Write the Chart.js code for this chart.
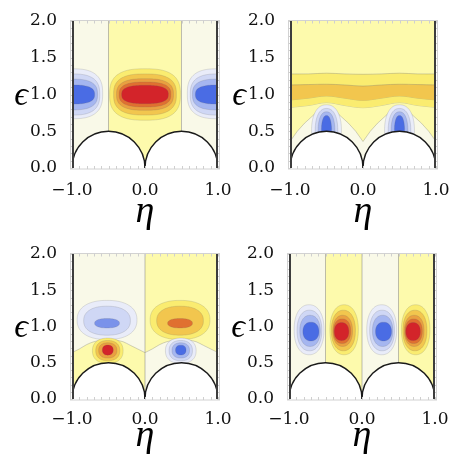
<!DOCTYPE html>
<html><head><meta charset="utf-8">
<script src="https://cdn.jsdelivr.net/npm/chart.js@4.4.1/dist/chart.umd.min.js"></script>
<style>
html,body{margin:0;padding:0;background:#fff;}
#wrap{position:relative;width:449px;height:455px;overflow:hidden;background:#fff;}
canvas{position:absolute;}
</style></head><body>
<div id="wrap">
<canvas id="c1" style="left:0px;top:0px;width:240px;height:230px" width="240" height="230"></canvas>
<canvas id="c2" style="left:220px;top:0px;width:229px;height:230px" width="229" height="230"></canvas>
<canvas id="c3" style="left:0px;top:230px;width:240px;height:225px" width="240" height="225"></canvas>
<canvas id="c4" style="left:220px;top:230px;width:229px;height:225px" width="229" height="225"></canvas>
</div>
<script>
// ---------- axis ticks ----------
const etaTicks = [-1, 0, 1];
const etaTickLabels = ['\u22121.0', '0.0', '1.0'];
const epsTicks = [0, 0.5, 1, 1.5, 2];
const epsTickLabels = ['0.0', '0.5', '1.0', '1.5', '2.0'];
const etaMinor = [-1,-0.9,-0.8,-0.7,-0.6,-0.5,-0.4,-0.3,-0.2,-0.1,0,0.1,0.2,0.3,0.4,0.5,0.6,0.7,0.8,0.9,1];
const epsMinor = [0,0.1,0.2,0.3,0.4,0.5,0.6,0.7,0.8,0.9,1,1.1,1.2,1.3,1.4,1.5,1.6,1.7,1.8,1.9,2];

// ---------- excluded half-discs ----------
const cutCenters = [-0.5, 0.5];
const cutRadius = 0.5;

// ---------- sign stripes [etaFrom, etaTo, positive?] ----------
const p1Stripes = [[-1,-0.5,0],[-0.5,0.5,1],[0.5,1,0]];
const p2Stripes = [[-1,1,1]];
const p3Stripes = [[-1,0,0],[0,1,1]];
const p4Stripes = [[-1,-0.5,0],[-0.5,0,1],[0,0.5,0],[0.5,1,1]];

// ---------- zero contours [eta, epsFrom, epsTo] ----------
const p1Zero = [[-0.5,0.5,2],[0.5,0.5,2]];
const p2Zero = [];
const p3Zero = [[0,0,2]];
const p4Zero = [[-0.5,0.5,2],[0,0,2],[0.5,0.5,2]];

// ---------- panel 2 horizontal bands ----------
const p2BandEta = [-1,-0.75,-0.5,-0.25,0,0.25,0.5,0.75,1];
const p2Band1Top = [1.28,1.28,1.29,1.28,1.275,1.28,1.29,1.28,1.28];
const p2Band2Top = [1.13,1.135,1.14,1.13,1.115,1.13,1.14,1.135,1.13];
const p2Band2Bot = [0.925,0.95,0.98,0.95,0.92,0.95,0.98,0.95,0.925];
const p2Band1Bot = [0.825,0.85,0.89,0.85,0.82,0.85,0.89,0.85,0.825];
// panel 2 arch (low-level region over the discs)
const p2ArchEta = [-1,-0.9,-0.8,-0.7,-0.6,-0.5,-0.4,-0.3,-0.2,-0.1,0,0.1,0.2,0.3,0.4,0.5,0.6,0.7,0.8,0.9,1];
const p2Arch = [0.36,0.50,0.61,0.70,0.79,0.85,0.79,0.70,0.61,0.50,0.36,0.50,0.61,0.70,0.79,0.85,0.79,0.70,0.61,0.50,0.36];

// ---------- panel 3 sign boundary ----------
const p3BoundEta = [-1,-0.9,-0.8,-0.7,-0.6,-0.5,-0.4,-0.3,-0.2,-0.1,0,0.1,0.2,0.3,0.4,0.5,0.6,0.7,0.8,0.9,1];
const p3Bound = [0.64,0.69,0.75,0.79,0.81,0.82,0.81,0.79,0.74,0.69,0.64,0.69,0.75,0.79,0.81,0.82,0.81,0.79,0.74,0.69,0.64];

// ---------- contour levels [level, etaCenter, epsCenter, etaHalfWidth, epsHalfHeight] ----------
const p1Contours = [
  [-1,-1,1.01,0.42,0.34],[-2,-1,1.0,0.38,0.28],[-3,-1,1.0,0.35,0.21],[-5,-1,1.0,0.31,0.13],
  [-1,1,1.01,0.42,0.34],[-2,1,1.0,0.38,0.28],[-3,1,1.0,0.35,0.21],[-5,1,1.0,0.31,0.13],
  [1,0,1.0,0.485,0.35],[2,0,1.0,0.43,0.28],[3,0,1.0,0.39,0.215],[4,0,1.0,0.355,0.17],[5,0,1.0,0.32,0.125]
];
const p2Contours = [
  [-1,-0.5,0.5,0.205,0.36],[-2,-0.5,0.5,0.155,0.31],[-3,-0.5,0.5,0.115,0.265],[-5,-0.5,0.5,0.07,0.215],
  [-1,0.5,0.5,0.205,0.36],[-2,0.5,0.5,0.155,0.31],[-3,0.5,0.5,0.115,0.265],[-5,0.5,0.5,0.07,0.215]
];
const p3Contours = [
  [-1,-0.52,1.09,0.41,0.27],[-2,-0.52,1.08,0.32,0.20],[-4,-0.52,1.045,0.17,0.065],
  [1,0.48,1.09,0.41,0.27],[2,0.48,1.08,0.32,0.20],[4,0.48,1.045,0.17,0.065],
  [1,-0.51,0.665,0.21,0.175],[2,-0.51,0.667,0.165,0.14],[3,-0.51,0.67,0.125,0.105],[5,-0.51,0.675,0.075,0.07],
  [-1,0.49,0.665,0.21,0.175],[-2,0.49,0.667,0.16,0.14],[-3,0.49,0.67,0.12,0.105],[-5,0.49,0.675,0.072,0.068]
];
const p4Contours = [
  [-1,-0.725,0.955,0.205,0.345],[-2,-0.72,0.945,0.17,0.28],[-3,-0.712,0.94,0.14,0.215],[-5,-0.70,0.93,0.11,0.13],
  [1,-0.245,0.955,0.195,0.345],[2,-0.255,0.945,0.165,0.28],[3,-0.265,0.94,0.135,0.215],[4,-0.272,0.935,0.118,0.17],[5,-0.28,0.93,0.10,0.125],
  [-1,0.27,0.955,0.205,0.345],[-2,0.275,0.945,0.17,0.28],[-3,0.283,0.94,0.14,0.215],[-5,0.295,0.93,0.11,0.13],
  [1,0.735,0.955,0.195,0.345],[2,0.725,0.945,0.165,0.28],[3,0.715,0.94,0.135,0.215],[4,0.708,0.935,0.118,0.17],[5,0.70,0.93,0.10,0.125]
];

// ---------- styles ----------
const PALE = 'rgb(249,249,232)';
const YELLOW = 'rgb(253,250,172)';
const POS = [YELLOW,'rgb(250,236,112)','rgb(242,198,78)','rgb(234,160,64)','rgb(224,112,48)','rgb(211,36,42)'];
const NEG = [PALE,'rgb(233,236,249)','rgb(207,215,245)','rgb(165,182,240)','rgb(122,146,234)','rgb(74,108,228)'];
const LINE = 'rgba(110,110,110,0.45)';
const TICKFONT = {family:'"DejaVu Serif", serif', size:17};

function pts(xs, ys){ return xs.map((v,i)=>({x:v,y:ys[i]})); }
function lineDs(data, extra){
  return Object.assign({data, borderColor:LINE, borderWidth:0.7, pointRadius:0, pointHitRadius:0, fill:false, tension:0.35}, extra||{});
}
function zeroDs(list){
  return list.map(z => lineDs([{x:z[0],y:z[1]},{x:z[0],y:z[2]}], {tension:0, borderColor:'rgba(120,120,120,0.6)', borderWidth:0.8}));
}

function levelColor(l){ return l > 0 ? POS[l] : NEG[-l]; }

function blobPath(ctx, sx, sy, c, n){
  const [, cx, cy, rx, ry] = c;
  ctx.beginPath();
  const N = 96;
  for (let i = 0; i <= N; i++){
    const t = i / N * 2 * Math.PI;
    const co = Math.cos(t), si = Math.sin(t);
    const ex = cx + rx * Math.sign(co) * Math.pow(Math.abs(co), 2/n);
    const ey = cy + ry * Math.sign(si) * Math.pow(Math.abs(si), 2/n);
    const px = sx.getPixelForValue(ex), py = sy.getPixelForValue(ey);
    if (i === 0) ctx.moveTo(px, py); else ctx.lineTo(px, py);
  }
  ctx.closePath();
}

function makePlugin(P){
  return {
    id: 'field' + P.id,
    beforeDatasetsDraw(chart){
      const {ctx, chartArea:a, scales:{x, y}} = chart;
      ctx.save();
      ctx.beginPath(); ctx.rect(a.left, a.top, a.right-a.left, a.bottom-a.top); ctx.clip();
      P.stripes.forEach(s => {
        const x0 = x.getPixelForValue(s[0]), x1 = x.getPixelForValue(s[1]);
        ctx.fillStyle = s[2] ? YELLOW : PALE;
        ctx.fillRect(x0, a.top, x1 - x0, a.bottom - a.top);
      });
      ctx.restore();
    },
    afterDatasetsDraw(chart){
      const {ctx, chartArea:a, scales:{x, y}} = chart;
      ctx.save();
      ctx.beginPath(); ctx.rect(a.left, a.top, a.right-a.left, a.bottom-a.top); ctx.clip();
      P.contours.forEach(c => {
        blobPath(ctx, x, y, c, P.n);
        ctx.fillStyle = levelColor(c[0]);
        ctx.fill();
        ctx.strokeStyle = 'rgba(100,100,100,0.3)';
        ctx.lineWidth = 0.6;
        ctx.stroke();
      });
      // excluded half discs
      const y0 = y.getPixelForValue(0);
      cutCenters.forEach(c => {
        const cx = x.getPixelForValue(c);
        const rx = x.getPixelForValue(c + cutRadius) - cx;
        const ry = y0 - y.getPixelForValue(cutRadius);
        ctx.beginPath();
        ctx.moveTo(cx - rx, y0 + 2);
        ctx.lineTo(cx - rx, y0);
        ctx.ellipse(cx, y0, rx, ry, 0, Math.PI, 2*Math.PI, false);
        ctx.lineTo(cx + rx, y0 + 2);
        ctx.closePath();
        ctx.fillStyle = '#fff';
        ctx.fill();
        ctx.beginPath();
        ctx.ellipse(cx, y0, rx, ry, 0, Math.PI, 2*Math.PI, false);
        ctx.strokeStyle = '#1a1a1a';
        ctx.lineWidth = 1.4;
        ctx.stroke();
      });
      ctx.restore();
      // frame
      ctx.save();
      ctx.strokeStyle = '#d2d2d2';
      ctx.lineWidth = 1;
      ctx.strokeRect(a.left - 1.5, a.top - 0.5, a.right - a.left + 3, a.bottom - a.top + 1.5);
      ctx.strokeStyle = '#cfcfcf';
      ctx.beginPath();
      etaMinor.forEach(v => {
        const px = Math.round(x.getPixelForValue(v)) + 0.5;
        ctx.moveTo(px, a.bottom + 1); ctx.lineTo(px, a.bottom - 2);
        ctx.moveTo(px, a.top - 0.5); ctx.lineTo(px, a.top + 2.5);
      });
      epsMinor.forEach(v => {
        const py = Math.round(y.getPixelForValue(v)) + 0.5;
        ctx.moveTo(a.left - 1.5, py); ctx.lineTo(a.left + 1, py);
        ctx.moveTo(a.right + 1.5, py); ctx.lineTo(a.right - 1, py);
      });
      ctx.stroke();
      // dark side walls at eta = -1 and eta = 1
      ctx.strokeStyle = '#3d3d3d';
      ctx.lineWidth = 2;
      ctx.beginPath();
      const xl = x.getPixelForValue(-1) + 1, xr = x.getPixelForValue(1) - 1;
      ctx.moveTo(xl, y.getPixelForValue(0)); ctx.lineTo(xl, y.getPixelForValue(2));
      ctx.moveTo(xr, y.getPixelForValue(0)); ctx.lineTo(xr, y.getPixelForValue(2));
      ctx.stroke();
      // epsilon label
      ctx.fillStyle = '#000';
      ctx.font = 'italic 34px "Liberation Serif", "DejaVu Serif", serif';
      ctx.textAlign = 'center';
      ctx.textBaseline = 'alphabetic';
      ctx.fillText('\u03F5', a.left - 51, y.getPixelForValue(1) + 10);
      ctx.restore();
    }
  };
}

const bandDs = [
  lineDs(pts(p2ArchEta, p2Arch), {fill:'start', backgroundColor:PALE, tension:0}),
  lineDs(pts(p2BandEta, p2Band2Top), {fill:'+1', backgroundColor:POS[2]}),
  lineDs(pts(p2BandEta, p2Band2Bot)),
  lineDs(pts(p2BandEta, p2Band1Top), {fill:'+1', backgroundColor:POS[1]}),
  lineDs(pts(p2BandEta, p2Band1Bot))
];
const boundDs = [
  lineDs(pts(p3BoundEta.slice(0,11), p3Bound.slice(0,11)), {fill:'start', backgroundColor:YELLOW}),
  lineDs(pts(p3BoundEta.slice(10), p3Bound.slice(10)), {fill:'start', backgroundColor:PALE})
];

const panels = [
  {id:'c1', yW:72, xH:62, pad:{top:21,right:22,left:0,bottom:0}, titlePad:2.4, tickPad:4, stripes:p1Stripes, contours:p1Contours, n:2.7, datasets:zeroDs(p1Zero)},
  {id:'c2', yW:70, xH:62, pad:{top:21,right:13,left:0,bottom:0}, titlePad:2.4, tickPad:4, stripes:p2Stripes, contours:p2Contours, n:2.3, datasets:zeroDs(p2Zero).concat(bandDs)},
  {id:'c3', yW:72, xH:56, pad:{top:24,right:22,left:0,bottom:0}, titlePad:3.8, tickPad:2, stripes:p3Stripes, contours:p3Contours, n:2.3, datasets:zeroDs(p3Zero).concat(boundDs)},
  {id:'c4', yW:69, xH:56, pad:{top:24,right:14,left:0,bottom:0}, titlePad:3.8, tickPad:2, stripes:p4Stripes, contours:p4Contours, n:2.2, datasets:zeroDs(p4Zero)}
];

panels.forEach(P => {
  new Chart(document.getElementById(P.id), {
    type: 'line',
    data: {datasets: P.datasets},
    options: {
      responsive: false,
      animation: false,
      devicePixelRatio: 1,
      layout: {padding: P.pad, autoPadding: false},
      plugins: {legend: {display: false}, tooltip: {enabled: false}},
      scales: {
        x: {
          type: 'linear', min: -1, max: 1,
          afterBuildTicks: s => { s.ticks = etaTicks.map(v => ({value: v})); },
          afterFit: s => { s.height = P.xH; s.paddingLeft = 0; s.paddingRight = 0; },
          ticks: {autoSkip: false, maxRotation: 0, minRotation: 0, padding: P.tickPad, font: TICKFONT, color: '#111',
                  callback: (v, i) => etaTickLabels[i]},
          grid: {display: false}, border: {display: false},
          title: {display: true, text: '\u03B7', color: '#000',
                  font: {family: '"Liberation Serif", "DejaVu Serif", serif', size: 38, style: 'italic', lineHeight: 0.8},
                  padding: {top: 0, bottom: P.titlePad}}
        },
        y: {
          type: 'linear', min: 0, max: 2,
          afterBuildTicks: s => { s.ticks = epsTicks.map(v => ({value: v})); },
          afterFit: s => { s.width = P.yW; s.paddingTop = 0; s.paddingBottom = 0; },
          ticks: {autoSkip: false, padding: 7, font: TICKFONT, color: '#111',
                  callback: (v, i) => epsTickLabels[i]},
          grid: {display: false}, border: {display: false}
        }
      }
    },
    plugins: [makePlugin(P)]
  });
});
</script>
</body></html>
